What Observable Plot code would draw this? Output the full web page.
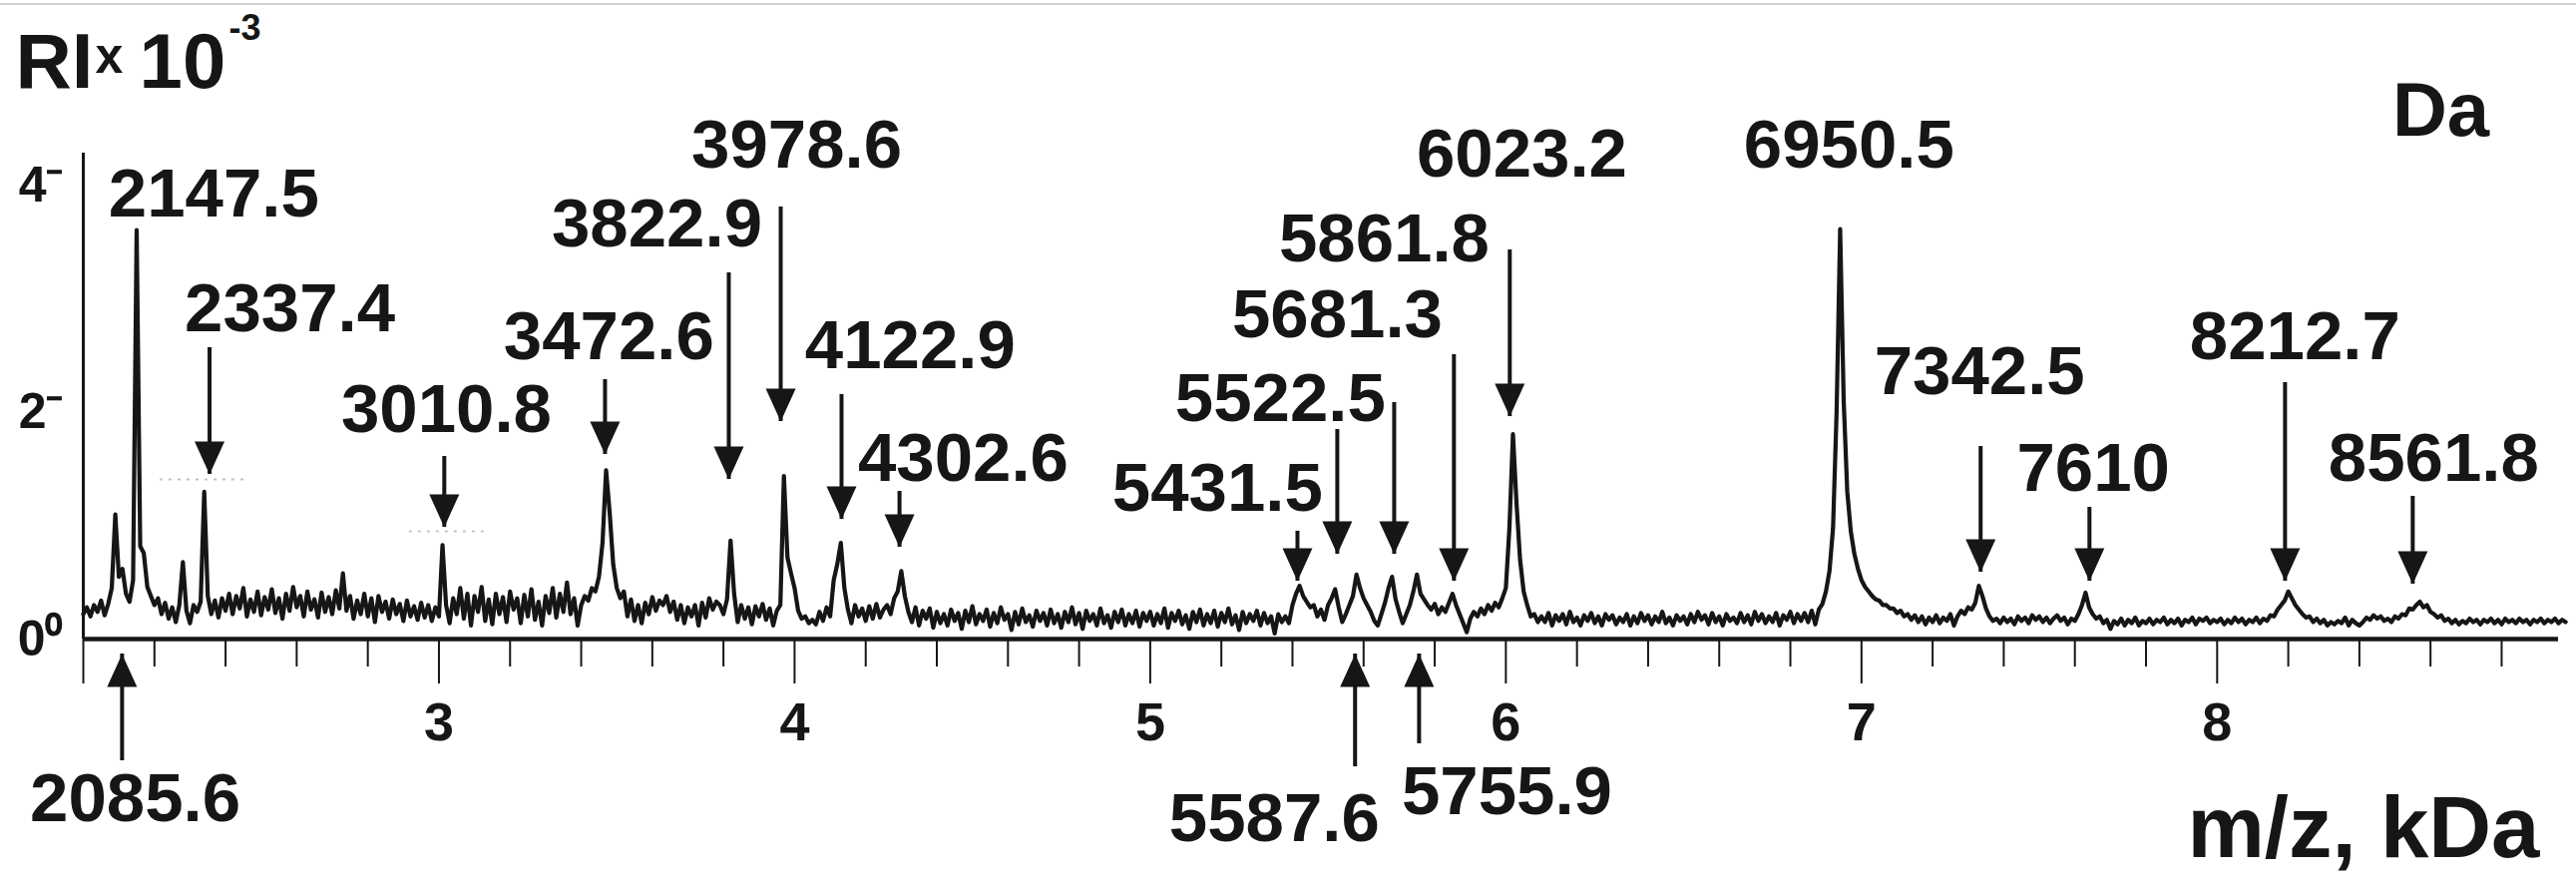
<!DOCTYPE html>
<html><head><meta charset="utf-8">
<script src="https://cdn.jsdelivr.net/npm/d3@7"></script>
<script src="https://cdn.jsdelivr.net/npm/@observablehq/plot@0.6"></script>
<style>
html,body{margin:0;padding:0;background:#fff;}
#wrap{position:relative;width:2582px;height:885px;overflow:hidden;}
#topline{position:absolute;left:0;top:3px;width:2582px;height:2px;background:#cfcfcf;z-index:2;}
svg text{font-weight:bold;}
</style></head>
<body><div id="wrap"><div id="topline"></div></div>
<script>
const mzStep = 0.01;
const ri2 = [ // 2.00–2.99
0.22,0.28,0.20,0.30,0.24,0.34,0.21,0.31,0.45,1.10,
0.55,0.62,0.40,0.33,0.52,3.61,0.82,0.76,0.46,0.38,
0.30,0.36,0.22,0.32,0.18,0.28,0.15,0.30,0.68,0.25,
0.14,0.30,0.24,0.33,1.30,0.38,0.22,0.34,0.19,0.36,
0.25,0.40,0.22,0.38,0.27,0.45,0.20,0.35,0.24,0.42,
0.21,0.37,0.26,0.44,0.23,0.36,0.18,0.40,0.25,0.46,
0.28,0.38,0.20,0.42,0.26,0.35,0.19,0.41,0.24,0.37,
0.22,0.43,0.27,0.58,0.25,0.38,0.18,0.34,0.22,0.40,
0.20,0.36,0.15,0.38,0.24,0.33,0.18,0.35,0.22,0.31,
0.16,0.34,0.20,0.29,0.17,0.32,0.19,0.30,0.16,0.28];
const ri3 = [ // 3.00–3.99
0.20,0.83,0.30,0.14,0.36,0.22,0.45,0.18,0.40,0.12,
0.38,0.24,0.46,0.16,0.35,0.13,0.40,0.22,0.37,0.15,
0.42,0.26,0.36,0.14,0.39,0.20,0.44,0.17,0.33,0.12,
0.38,0.23,0.45,0.19,0.40,0.24,0.50,0.22,0.36,0.12,
0.30,0.38,0.34,0.45,0.42,0.55,0.85,1.49,1.12,0.66,
0.45,0.36,0.42,0.20,0.35,0.16,0.30,0.14,0.32,0.22,
0.37,0.25,0.34,0.30,0.38,0.24,0.33,0.17,0.30,0.14,
0.28,0.20,0.30,0.12,0.32,0.19,0.36,0.26,0.33,0.30,
0.22,0.35,0.87,0.40,0.15,0.30,0.18,0.28,0.13,0.29,
0.20,0.31,0.17,0.27,0.12,0.25,0.30,1.44,0.72,0.58];
const ri4 = [ // 4.00–4.99
0.45,0.25,0.18,0.20,0.14,0.17,0.13,0.24,0.16,0.28,
0.20,0.52,0.66,0.85,0.45,0.26,0.14,0.30,0.20,0.27,
0.16,0.29,0.18,0.31,0.19,0.26,0.30,0.22,0.36,0.42,
0.60,0.38,0.24,0.15,0.28,0.12,0.25,0.18,0.27,0.10,
0.24,0.14,0.22,0.12,0.26,0.16,0.23,0.09,0.25,0.15,
0.29,0.13,0.22,0.16,0.26,0.11,0.23,0.14,0.28,0.17,
0.22,0.08,0.24,0.13,0.27,0.15,0.21,0.11,0.25,0.16,
0.23,0.12,0.26,0.14,0.22,0.10,0.24,0.15,0.28,0.13,
0.23,0.09,0.25,0.16,0.22,0.12,0.27,0.14,0.21,0.10,
0.24,0.15,0.26,0.12,0.22,0.14,0.25,0.11,0.23,0.16];
const ri5 = [ // 5.00–5.99
0.24,0.12,0.22,0.14,0.27,0.10,0.23,0.16,0.25,0.13,
0.21,0.09,0.24,0.15,0.26,0.12,0.22,0.14,0.25,0.11,
0.23,0.15,0.27,0.13,0.21,0.08,0.24,0.14,0.22,0.16,
0.25,0.12,0.23,0.14,0.20,0.05,0.22,0.15,0.20,0.14,
0.30,0.40,0.47,0.38,0.33,0.28,0.30,0.20,0.26,0.17,
0.30,0.36,0.44,0.28,0.15,0.22,0.30,0.38,0.57,0.45,
0.36,0.30,0.24,0.16,0.12,0.22,0.32,0.45,0.55,0.35,
0.24,0.14,0.22,0.30,0.42,0.57,0.40,0.35,0.30,0.26,
0.31,0.22,0.28,0.24,0.32,0.40,0.30,0.22,0.14,0.06,
0.18,0.24,0.20,0.27,0.22,0.30,0.25,0.32,0.28,0.36];
const ri6 = [ // 6.00–6.99
0.45,0.98,1.81,1.20,0.70,0.42,0.30,0.20,0.22,0.15,
0.20,0.15,0.23,0.12,0.21,0.16,0.22,0.13,0.24,0.15,
0.19,0.12,0.21,0.16,0.23,0.14,0.20,0.12,0.22,0.17,
0.21,0.13,0.19,0.15,0.22,0.12,0.20,0.14,0.23,0.16,
0.21,0.13,0.20,0.15,0.24,0.14,0.19,0.12,0.21,0.16,
0.20,0.13,0.22,0.15,0.24,0.17,0.21,0.13,0.23,0.15,
0.20,0.12,0.22,0.16,0.19,0.14,0.23,0.15,0.21,0.13,
0.24,0.16,0.22,0.14,0.20,0.15,0.23,0.12,0.21,0.17,
0.24,0.14,0.22,0.16,0.23,0.15,0.25,0.13,0.26,0.31,
0.42,0.60,0.98,2.00,3.62,2.10,1.30,0.95,0.75,0.62];
const ri7 = [ // 7.00–7.99
0.52,0.46,0.42,0.38,0.35,0.34,0.30,0.30,0.27,0.27,
0.23,0.25,0.20,0.22,0.17,0.21,0.15,0.20,0.13,0.19,
0.15,0.21,0.14,0.19,0.16,0.22,0.12,0.20,0.25,0.22,
0.28,0.26,0.32,0.47,0.38,0.27,0.20,0.16,0.18,0.14,
0.19,0.15,0.18,0.13,0.20,0.16,0.19,0.14,0.21,0.17,
0.20,0.15,0.19,0.14,0.18,0.21,0.16,0.19,0.13,0.18,
0.16,0.22,0.30,0.41,0.28,0.22,0.18,0.20,0.14,0.17,
0.09,0.16,0.13,0.18,0.12,0.17,0.14,0.19,0.12,0.16,
0.14,0.18,0.13,0.17,0.15,0.19,0.13,0.17,0.14,0.18,
0.12,0.17,0.15,0.19,0.13,0.18,0.16,0.19,0.14,0.17];
const ri8 = [ // 8.00–8.98
0.15,0.18,0.13,0.17,0.14,0.19,0.15,0.18,0.13,0.17,
0.15,0.19,0.14,0.18,0.16,0.21,0.20,0.26,0.30,0.34,
0.42,0.36,0.30,0.26,0.22,0.19,0.20,0.15,0.18,0.14,
0.17,0.12,0.15,0.13,0.16,0.14,0.19,0.12,0.17,0.14,
0.12,0.15,0.19,0.17,0.21,0.18,0.20,0.16,0.18,0.15,
0.20,0.18,0.22,0.21,0.27,0.26,0.30,0.33,0.28,0.30,
0.24,0.22,0.19,0.21,0.16,0.18,0.14,0.17,0.13,0.16,
0.14,0.18,0.15,0.17,0.13,0.17,0.15,0.18,0.14,0.17,
0.13,0.18,0.15,0.17,0.14,0.18,0.15,0.17,0.13,0.17,
0.15,0.18,0.14,0.17,0.15,0.18,0.14,0.17,0.15];
const blockStarts = [2, 3, 4, 5, 6, 7, 8];
const blocks = [ri2, ri3, ri4, ri5, ri6, ri7, ri8];

// ---- peak labels (text, position in kDa / intensity units) ----
const labelText = ["2147.5","2337.4","3010.8","3472.6","3822.9","3978.6","4122.9","4302.6","5431.5","5522.5","5681.3","5861.8","6023.2","6950.5","7342.5","7610","8212.7","8561.8","2085.6","5587.6","5755.9"];
const labelX    = [2.367,2.581,3.021,3.478,3.613,4.006,4.325,4.474,5.189,5.366,5.526,5.658,6.045,6.965,7.332,7.652,8.219,8.609,2.146,5.349,6.003];
const labelY    = [3.727,2.714,1.824,2.467,3.463,4.159,2.396,1.392,1.128,1.921,2.661,3.330,4.079,4.159,2.159,1.304,2.467,1.392,-1.612,-1.780,-1.542];

// ---- arrows pointing down at peaks: x, shaft top, tip ----
const downX   = [2.355,3.015,3.467,3.815,3.961,4.132,4.295,5.414,5.526,5.686,5.854,6.011,7.335,7.641,8.191,8.550];
const downTop = [2.573,1.612,2.291,3.233,3.815,2.159,1.304,0.952,1.850,2.088,2.511,3.436,1.700,1.163,2.264,1.260];
const downTip = [1.454,0.987,1.630,1.410,1.921,1.057,0.811,0.511,0.749,0.749,0.511,1.965,0.590,0.511,0.511,0.485];
// ---- arrows pointing up from below the axis ----
const upX      = [2.109,5.576,5.756];
const upBottom = [-1.075,-1.128,-0.925];
const upTip    = [-0.132,-0.132,-0.132];

// faint dotted guide lines in the scan
const guideX1 = [2.216, 2.917];
const guideX2 = [2.457, 3.128];
const guideY  = [1.41, 0.952];

// axes
const majorTicks = [2,3,4,5,6,7,8];
const minorTicks = [2.2,2.4,2.6,2.8,3.2,3.4,3.6,3.8,4.2,4.4,4.6,4.8,5.2,5.4,5.6,5.8,6.2,6.4,6.6,6.8,7.2,7.4,7.6,7.8,8.2,8.4,8.6,8.8];
const yTicks = [0,2,4];
const yTickLabels = ["0\u2070","2\u207B","4\u207B"];

// ---- build tables ----
const spectrum = blocks.flatMap((arr, b) => arr.map((v, i) => ({mz: +(blockStarts[b] + i * mzStep).toFixed(2), ri: v})));
const labels = labelText.map((t, i) => ({text: t, x: labelX[i], y: labelY[i]}));
const downArrows = downX.map((x, i) => ({x, y1: downTop[i], y2: downTip[i]}));
const upArrows = upX.map((x, i) => ({x, y1: upBottom[i], y2: upTip[i]}));
const guides = guideY.map((y, i) => ({x1: guideX1[i], x2: guideX2[i], y}));
const yLab = new Map(yTicks.map((t, i) => [t, yTickLabels[i]]));

const headDown = {draw(ctx) { ctx.moveTo(0, 0); ctx.lineTo(-15, -33); ctx.lineTo(15, -33); ctx.closePath(); }};
const headUp   = {draw(ctx) { ctx.moveTo(0, 0); ctx.lineTo(-15, 33); ctx.lineTo(15, 33); ctx.closePath(); }};

const ink = "#161616";
const chart = Plot.plot({
  width: 2582, height: 885,
  marginLeft: 83, marginRight: 18, marginTop: 153, marginBottom: 245,
  x: {domain: [2, 8.96]},
  y: {domain: [0, 4.29]},
  style: {fontFamily: "'Liberation Sans', Arial, Helvetica, sans-serif", color: ink, background: "white", overflow: "visible"},
  marks: [
    Plot.axisX({ticks: minorTicks, tickSize: 28, tickFormat: () => "", strokeWidth: 2}),
    Plot.axisX({ticks: majorTicks, tickSize: 45, tickPadding: 18, fontSize: 54, strokeWidth: 2, tickFormat: d => d === 2 ? "" : String(d)}),
    Plot.axisY({ticks: yTicks, tickSize: 0, tickPadding: 20, fontSize: 50, tickFormat: d => yLab.get(d)}),
    Plot.ruleY([0], {strokeWidth: 4.5, stroke: ink}),
    Plot.ruleX([2], {strokeWidth: 3, stroke: ink}),
    Plot.ruleY(guides, {x1: "x1", x2: "x2", y: "y", stroke: "#c4c4c4", strokeWidth: 2, strokeDasharray: "3,6", clip: false}),
    Plot.line(spectrum, {x: "mz", y: "ri", stroke: ink, strokeWidth: 4.2}),
    Plot.ruleX(downArrows, {x: "x", y1: "y1", y2: "y2", stroke: ink, strokeWidth: 4}),
    Plot.dot(downArrows, {x: "x", y: "y2", symbol: headDown, fill: ink, stroke: "none"}),
    Plot.ruleX(upArrows, {x: "x", y1: "y1", y2: "y2", stroke: ink, strokeWidth: 4, clip: false}),
    Plot.dot(upArrows, {x: "x", y: "y2", symbol: headUp, fill: ink, stroke: "none"}),
    Plot.text(labels, {x: "x", y: "y", text: "text", fontSize: 69, fontWeight: "bold", lineAnchor: "bottom", textAnchor: "middle", fill: ink}),
    // axis titles
    Plot.text(["RI"], {frameAnchor: "top-left", dx: -68, dy: -66, text: d => d, fontSize: 78, fontWeight: "bold", textAnchor: "start", lineAnchor: "bottom", fill: ink}),
    Plot.text(["x"], {frameAnchor: "top-left", dx: 12, dy: -81, text: d => d, fontSize: 50, fontWeight: "bold", textAnchor: "start", lineAnchor: "bottom", fill: ink}),
    Plot.text(["10"], {frameAnchor: "top-left", dx: 56, dy: -66, text: d => d, fontSize: 78, fontWeight: "bold", textAnchor: "start", lineAnchor: "bottom", fill: ink}),
    Plot.text(["-3"], {frameAnchor: "top-left", dx: 146, dy: -114, text: d => d, fontSize: 36, fontWeight: "bold", textAnchor: "start", lineAnchor: "bottom", fill: ink}),
    Plot.text(["Da"], {frameAnchor: "top-right", dx: -118, dy: -18, text: d => d, fontSize: 76, fontWeight: "bold", textAnchor: "middle", lineAnchor: "bottom", fill: ink}),
    Plot.text(["m/z, kDa"], {frameAnchor: "bottom-right", dx: -19, dy: 218, text: d => d, fontSize: 87, fontWeight: "bold", textAnchor: "end", lineAnchor: "bottom", fill: ink})
  ]
});
document.getElementById("wrap").appendChild(chart);
</script>
</body></html>
